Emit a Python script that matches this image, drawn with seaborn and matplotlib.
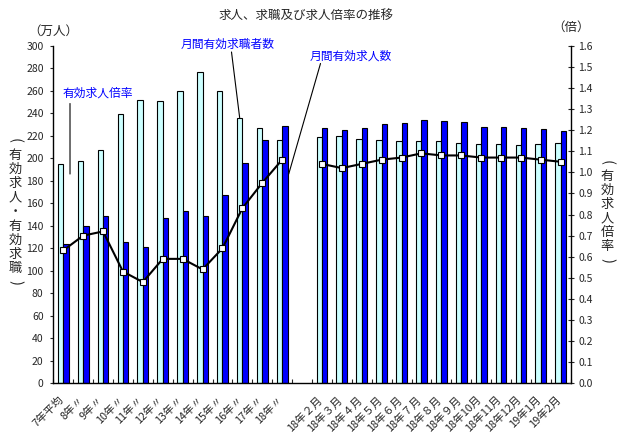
import numpy as np
import pandas as pd
import matplotlib
matplotlib.use('Agg')
import matplotlib.pyplot as plt
import matplotlib.transforms as mtransforms
from matplotlib.ticker import MultipleLocator, FormatStrFormatter
import seaborn as sns

# categories
years = ['7年平均', '8年〃', '9年〃', '10年〃', '11年〃', '12年〃', '13年〃',
         '14年〃', '15年〃', '16年〃', '17年〃', '18年〃']
months = ['18年２月', '18年３月', '18年４月', '18年５月', '18年６月', '18年７月',
          '18年８月', '18年９月', '18年10月', '18年11月', '18年12月', '19年1月', '19年2月']
gap = ' '

# 月間有効求職者数 (万人)
seekers_year = [195, 198, 207, 239, 252, 251, 260, 277, 260, 236, 227, 216]
seekers_month = [219, 220, 217, 216, 215, 215, 215, 214, 213, 213, 212, 213, 214]
# 月間有効求人数 (万人)
openings_year = [124, 140, 149, 126, 121, 147, 153, 149, 167, 196, 216, 229]
openings_month = [227, 225, 227, 230, 231, 234, 233, 232, 228, 228, 227, 226, 224]
# 有効求人倍率 (倍)
ratio_year = [0.63, 0.70, 0.72, 0.53, 0.48, 0.59, 0.59, 0.54, 0.64, 0.83, 0.95, 1.06]
ratio_month = [1.04, 1.02, 1.04, 1.06, 1.07, 1.09, 1.08, 1.08, 1.07, 1.07, 1.07, 1.06, 1.05]

s_seek = '月間有効求職者数'
s_open = '月間有効求人数'
left_caption = '有効求人・有効求職'
right_caption = '有効求人倍率'

order = years + [gap] + months
df = pd.DataFrame({
    'cat': (years + months) * 2,
    'series': [s_seek] * 25 + [s_open] * 25,
    'value': seekers_year + seekers_month + openings_year + openings_month,
})

sns.set_style('white')
plt.rcParams['font.family'] = ['Noto Sans CJK JP', 'DejaVu Sans']

W, H = 626, 437
fig = plt.figure(figsize=(W / 100, H / 100), dpi=100)
ax = fig.add_axes([53.3 / W, 1 - 383.4 / H, (570.7 - 53.3) / W, (383.4 - 45.7) / H])

sns.barplot(data=df, x='cat', y='value', hue='series', order=order,
            hue_order=[s_seek, s_open], palette=['#CCFFFF', '#0000FF'],
            saturation=1, width=0.54, edgecolor='black', linewidth=0.8,
            errorbar=None, legend=False, ax=ax)

ax.set_xlim(-0.5, len(order) - 0.5)
ax.set_ylim(0, 300)
ax.yaxis.set_major_locator(MultipleLocator(20))
ax.set_xlabel('')
ax.set_ylabel('')
for s in ['top', 'right']:
    ax.spines[s].set_visible(False)
for s in ['left', 'bottom']:
    ax.spines[s].set_color('black')
    ax.spines[s].set_linewidth(1.0)
ax.tick_params(axis='y', direction='out', length=2.5, width=0.8, labelsize=7.5, pad=4.5, left=True)
ax.tick_params(axis='x', which='major', length=0, labelsize=7.8, pad=8)
ax.set_xticks(np.arange(-0.5, len(order), 1), minor=True)
ax.tick_params(axis='x', which='minor', direction='in', length=3, width=0.8, bottom=True)
ax.set_xticks(np.arange(len(order)))
ax.set_xticklabels(order, rotation=45, ha='right', va='top', rotation_mode='anchor')
shift = mtransforms.ScaledTranslation(-5 / 100, 0, fig.dpi_scale_trans)
for lab in ax.get_xticklabels():
    lab.set_transform(lab.get_transform() + shift)

# ratio line on the right axis
ax2 = ax.twinx()
x_year = np.arange(len(years))
x_month = np.arange(len(months)) + len(years) + 1
for xs, ys in [(x_year, ratio_year), (x_month, ratio_month)]:
    sns.lineplot(x=xs, y=ys, ax=ax2, color='black', linewidth=1.5, marker='s',
                 markersize=4.2, markerfacecolor='white', markeredgecolor='black',
                 markeredgewidth=0.8, sort=False)
ax2.set_ylim(0, 1.6)
ax2.yaxis.set_major_locator(MultipleLocator(0.1))
ax2.yaxis.set_major_formatter(FormatStrFormatter('%.1f'))
ax2.set_xlim(-0.5, len(order) - 0.5)
ax2.set_ylabel('')
for s in ['top', 'left', 'bottom']:
    ax2.spines[s].set_visible(False)
ax2.spines['right'].set_color('black')
ax2.spines['right'].set_linewidth(1.0)
ax2.tick_params(axis='y', direction='inout', length=5, width=0.8, labelsize=7.5, pad=3, right=True)

# titles and axis captions
fig.text(306 / W, 1 - 15 / H, '求人、求職及び求人倍率の推移', ha='center', va='center', fontsize=9)
fig.text(53 / W, 1 - 31.5 / H, '（万人）', ha='center', va='center', fontsize=9)
fig.text(571 / W, 1 - 27.5 / H, '（倍）', ha='center', va='center', fontsize=9)


def vertical_caption(x, y0, step, text):
    # stacked characters, brackets turned to face down/up
    fig.text(x / W, 1 - y0 / H, '(', ha='center', va='center', fontsize=10.5, rotation=-90)
    for i, ch in enumerate(text):
        fig.text(x / W, 1 - (y0 + step * (i + 1)) / H, ch, ha='center', va='center', fontsize=9.5)
    fig.text(x / W, 1 - (y0 + step * (len(text) + 1)) / H, ')', ha='center', va='center',
             fontsize=10.5, rotation=-90)


vertical_caption(15, 141, 14.2, left_caption)
vertical_caption(607, 163, 13.9, right_caption)

# callouts
line_kw = dict(arrowstyle='-', color='black', lw=0.8, shrinkA=0, shrinkB=0)
fig.text(228 / W, 1 - 44 / H, s_seek, ha='center', va='center', fontsize=8.5, color='#0000FF')
ax.annotate('', xy=(9 - 0.135, seekers_year[9]), xytext=(231.5 / W, 1 - 52 / H),
            textcoords='figure fraction', arrowprops=line_kw)
fig.text(351 / W, 1 - 56.5 / H, s_open, ha='center', va='center', fontsize=8.5, color='#0000FF')
ax.annotate('', xy=(11.33, 186), xytext=(320.5 / W, 1 - 63.5 / H),
            textcoords='figure fraction', arrowprops=line_kw)
fig.text(98 / W, 1 - 93 / H, '有効求人倍率', ha='center', va='center', fontsize=8.5, color='#0000FF')
ax.annotate('', xy=(0.34, 186), xytext=(70 / W, 1 - 103.5 / H),
            textcoords='figure fraction', arrowprops=line_kw)

fig.savefig('out.png', dpi=100)
